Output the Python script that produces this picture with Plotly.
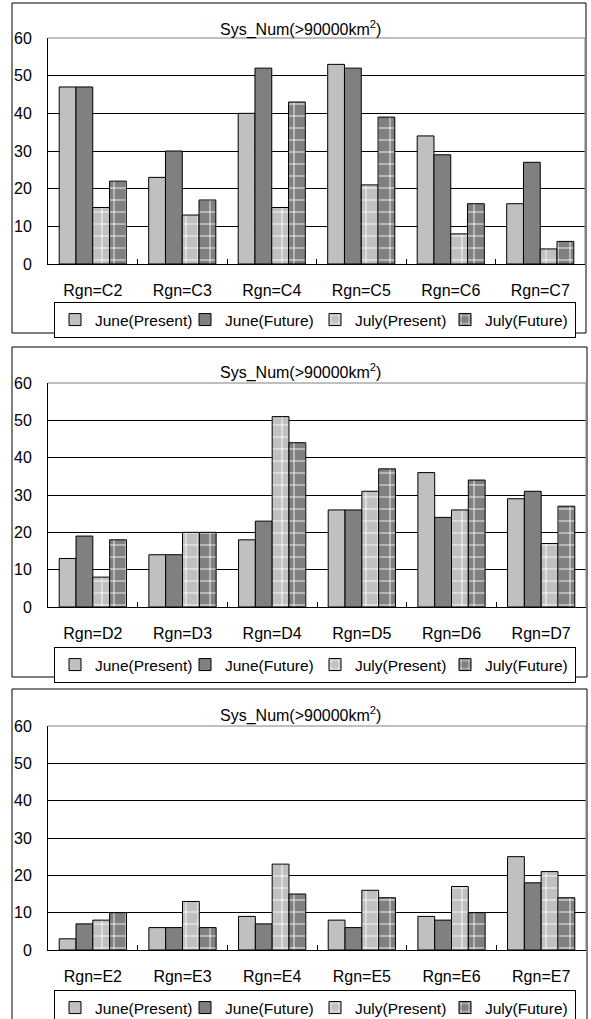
import plotly.graph_objects as go

W, H = 591, 1019

series_names = ["June(Present)", "June(Future)", "July(Present)", "July(Future)"]

cats_C = ["Rgn=C2", "Rgn=C3", "Rgn=C4", "Rgn=C5", "Rgn=C6", "Rgn=C7"]
june_present_C = [47, 23, 40, 53, 34, 16]
june_future_C = [47, 30, 52, 52, 29, 27]
july_present_C = [15, 13, 15, 21, 8, 4]
july_future_C = [22, 17, 43, 39, 16, 6]

cats_D = ["Rgn=D2", "Rgn=D3", "Rgn=D4", "Rgn=D5", "Rgn=D6", "Rgn=D7"]
june_present_D = [13, 14, 18, 26, 36, 29]
june_future_D = [19, 14, 23, 26, 24, 31]
july_present_D = [8, 20, 51, 31, 26, 17]
july_future_D = [18, 20, 44, 37, 34, 27]

cats_E = ["Rgn=E2", "Rgn=E3", "Rgn=E4", "Rgn=E5", "Rgn=E6", "Rgn=E7"]
june_present_E = [3, 6, 9, 8, 9, 25]
june_future_E = [7, 6, 7, 6, 8, 18]
july_present_E = [8, 13, 23, 16, 17, 21]
july_future_E = [10, 6, 15, 14, 10, 14]

y_ticks = [0, 10, 20, 30, 40, 50, 60]
title_text = "Sys_Num(&gt;90000km<sup>2</sup>)"

FONT = "Arial, Liberation Sans, sans-serif"
LIGHT = "#c0c0c0"
DARK = "#808080"


def px_x(p):
    return p / W


def px_y(p):
    return 1 - p / H


panels = [
    dict(cats=cats_C, vals=[june_present_C, june_future_C, july_present_C, july_future_C],
         frame=(12, 3, 586, 333), plot=(48, 38, 585, 264), title_y=28, legend_y=302),
    dict(cats=cats_D, vals=[june_present_D, june_future_D, july_present_D, july_future_D],
         frame=(12, 347, 587, 677), plot=(48, 383, 586, 607), title_y=372, legend_y=647),
    dict(cats=cats_E, vals=[june_present_E, june_future_E, july_present_E, july_future_E],
         frame=(12, 689, 587, 1030), plot=(48, 726, 586, 950), title_y=714, legend_y=990),
]

fig = go.Figure()
shapes = []
annotations = []
layout = {}

for i, p in enumerate(panels):
    n = "" if i == 0 else str(i + 1)
    xa, ya = "x" + n, "y" + n
    lg = "legend" + n
    colors = [LIGHT, DARK, LIGHT, DARK]
    for k in range(4):
        marker = dict(color=colors[k], line=dict(color="black", width=1))
        if k >= 2:
            marker["pattern"] = dict(shape="+", fgcolor="white", bgcolor=colors[k],
                                     size=12, solidity=0.14, fillmode="replace")
        fig.add_trace(go.Bar(x=p["cats"], y=p["vals"][k], name=series_names[k],
                             marker=marker, xaxis=xa, yaxis=ya, legend=lg))
    x0, y0, x1, y1 = p["plot"]
    layout["xaxis" + n] = dict(domain=[px_x(x0), px_x(x1)], anchor=ya, showgrid=False,
                               showline=True, linecolor="black", linewidth=1,
                               ticks="inside", tickson="boundaries", ticklen=5,
                               tickcolor="black", ticklabelstandoff=12,
                               tickfont=dict(family=FONT, size=16, color="black"))
    layout["yaxis" + n] = dict(domain=[px_y(y1), px_y(y0)], anchor=xa, range=[0, 60],
                               tickvals=y_ticks, showgrid=True, gridcolor="black",
                               gridwidth=1, showline=True, linecolor="black",
                               linewidth=1, zeroline=False, ticks="",
                               ticklabelstandoff=12,
                               tickfont=dict(family=FONT, size=16, color="black"))
    fx0, fy0, fx1, fy1 = p["frame"]
    shapes.append(dict(type="rect", xref="paper", yref="paper",
                       x0=px_x(fx0), x1=px_x(fx1), y0=px_y(fy1), y1=px_y(fy0),
                       line=dict(color="black", width=1)))
    shapes.append(dict(type="line", xref="paper", yref="paper",
                       x0=px_x(x0), x1=px_x(x1), y0=px_y(y0), y1=px_y(y0),
                       line=dict(color="#808080", width=1), layer="above"))
    shapes.append(dict(type="line", xref="paper", yref="paper",
                       x0=px_x(x1), x1=px_x(x1), y0=px_y(y0), y1=px_y(y1),
                       line=dict(color="#808080", width=1), layer="above"))
    annotations.append(dict(text=title_text, xref="paper", yref="paper",
                            x=px_x(300), y=px_y(p["title_y"]), xanchor="center",
                            yanchor="middle", showarrow=False,
                            font=dict(family=FONT, size=16, color="black")))
    layout[lg] = dict(orientation="h", x=px_x(54), y=px_y(p["legend_y"]),
                      xanchor="left", yanchor="top", bgcolor="white",
                      bordercolor="black", borderwidth=1, itemwidth=30,
                      entrywidth=85, entrywidthmode="pixels",
                      font=dict(family=FONT, size=15.5, color="black"),
                      tracegroupgap=0, itemclick=False)

fig.update_layout(width=W, height=H,
                  margin=dict(l=0, r=0, t=0, b=0, autoexpand=False),
                  paper_bgcolor="white", plot_bgcolor="white",
                  barmode="group", bargap=0.25, bargroupgap=0,
                  showlegend=True, shapes=shapes, annotations=annotations,
                  hovermode=False,
                  **layout)

fig.write_html("out.html", config={"displayModeBar": False},
               post_script="document.body.style.margin='0px';document.body.style.overflow='hidden';")
